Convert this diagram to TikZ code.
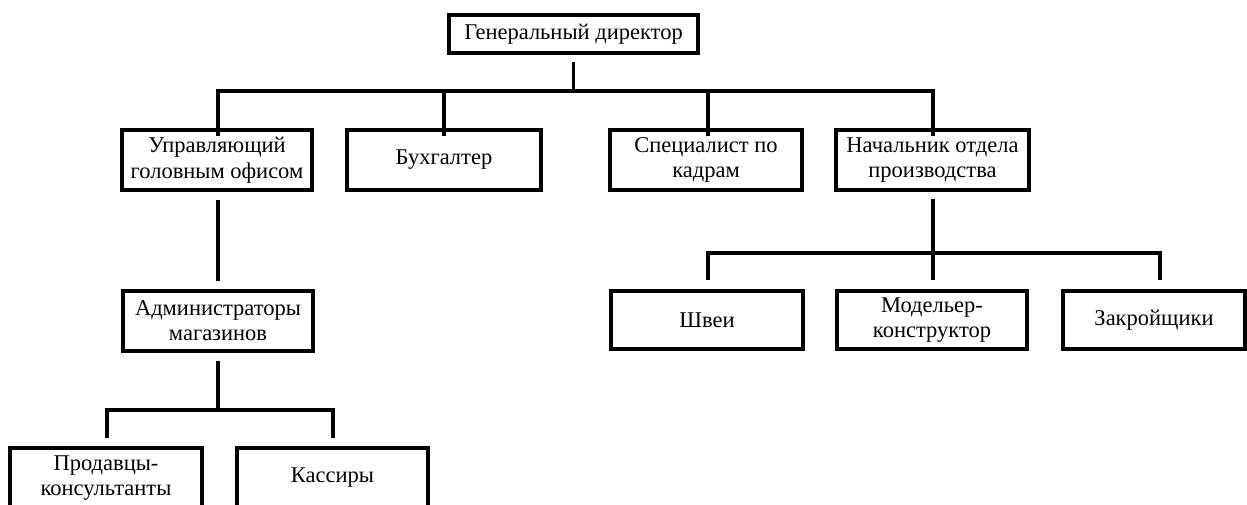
\documentclass[tikz,border=0pt]{standalone}
\usepackage{fontspec}
\setmainfont{Liberation Serif}
\begin{document}
\begin{tikzpicture}[x=1pt,y=-1pt,
  orgbox/.style={draw=black,line width=4pt,fill=white,rectangle,inner sep=0pt,
    minimum width=#1,minimum height=60pt,align=center,
    font=\fontsize{22.5}{25.5}\selectfont},
  orgbox/.default=192pt,
  link/.style={line width=3.6pt,line cap=butt}]
\useasboundingbox (0,0) rectangle (1247,504);
\clip (0,0) rectangle (1247,504);
\fill[white] (0,0) rectangle (1247,504);

% boxes
\node[orgbox=249pt,minimum height=38pt] (gd) at (573.5,34) {Генеральный директор};
\node[orgbox=190pt] (upr) at (217,160) {Управляющий\\головным офисом};
\node[orgbox=194pt] (buh) at (444,160) {Бухгалтер};
\node[orgbox=192pt] (spec) at (706,160) {Специалист по\\кадрам};
\node[orgbox=193pt] (nach) at (932.5,160) {Начальник отдела\\производства};
\node[orgbox=190pt] (adm) at (218,320.5) {Администраторы\\магазинов};
\node[orgbox=192pt,minimum height=58pt] (shv) at (707,320) {Швеи};
\node[orgbox=190pt,minimum height=58pt] (mod) at (932,320) {Модельер-\\конструктор};
\node[orgbox=182pt,minimum height=58pt] (zak) at (1154,320) {Закройщики};
\node[orgbox=192pt] (prod) at (106,478) {Продавцы-\\консультанты};
\node[orgbox=191pt] (kas) at (332.5,478) {Кассиры};

% bus levels
\coordinate (busA) at (0,91);
\coordinate (busB) at (0,253);
\coordinate (busC) at (0,410);

% director to level two
\draw[link] ([yshift=-7pt]gd.south) -- (gd.south |- busA);
\draw[link] ([yshift=-8pt]upr.north -| 218,0) |- (busA -| 933,0) -- ([yshift=-8pt]nach.north -| 933,0);
\draw[link] (buh.north |- busA) -- ([yshift=-8pt]buh.north);
\draw[link] (708,91) -- ([yshift=-8pt]spec.north -| 708,0);

% head office branch
\draw[link] ([yshift=-8pt]upr.south -| 218,0) -- ([yshift=8pt]adm.north);
\draw[link] ([yshift=-8pt]adm.south) -- (adm.south |- busC);
\draw[link] ([yshift=8pt]prod.north -| 107,0) |- (busC -| 333,0) -- ([yshift=8pt]kas.north -| 333,0);

% production branch
\draw[link] ([yshift=-7pt]nach.south -| 933,0) -- ([yshift=9pt]mod.north -| 933,0);
\draw[link] ([yshift=9pt]shv.north -| 708,0) |- (busB -| 1160,0) -- ([yshift=9pt]zak.north -| 1160,0);
\end{tikzpicture}
\end{document}
